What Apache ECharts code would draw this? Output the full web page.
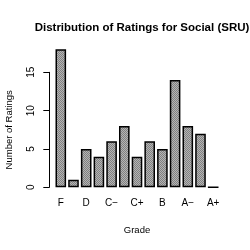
<!DOCTYPE html>
<html><head><meta charset="utf-8">
<script src="https://cdn.jsdelivr.net/npm/echarts@6/dist/echarts.min.js"></script>
<style>html,body{margin:0;padding:0;background:#fff}#c{width:250px;height:250px}</style>
</head><body><div id="c"></div>
<script>
var categories = ['F','D−','D','D+','C−','C','C+','B−','B','B+','A−','A','A+'];
var counts = [18,1,5,4,6,8,4,6,5,14,8,7,0];
var yTicks = [0,5,10,15];
var titleText = 'Distribution of Ratings for Social (SRU)';
var xName = 'Grade';
var yName = 'Number of Ratings';

var pc = document.createElement('canvas');
pc.width = 2; pc.height = 2;
var ctx = pc.getContext('2d');
ctx.fillStyle = '#b4b4b4'; ctx.fillRect(0,0,2,2);
ctx.fillStyle = '#808080'; ctx.fillRect(0,0,1,1); ctx.fillRect(1,1,1,1);

var font = 'Liberation Sans, Arial, sans-serif';
var chart = echarts.init(document.getElementById('c'), null, {renderer:'canvas'});
chart.setOption({
  animation:false,
  backgroundColor:'#fff',
  title:{text:titleText, left:137, top:17, textAlign:'center',
    textStyle:{fontFamily:font, fontSize:11.5, fontWeight:'bold', color:'#000'}},
  grid:[
    {left:54.45, width:165.1, top:49.3, height:138, containLabel:false, outerBoundsMode:'none'},
    {left:49.3, width:170, top:72.3, height:115, containLabel:false, outerBoundsMode:'none'}
  ],
  xAxis:[
    {type:'category', gridIndex:0, data:categories,
     axisLine:{show:false}, axisTick:{show:false},
     axisLabel:{interval:1, margin:11, fontFamily:font, fontSize:10, color:'#000'},
     name:xName, nameLocation:'middle', nameGap:38, nameMoveOverlap:false,
     nameTextStyle:{fontFamily:font, fontSize:9.5, color:'#000'}},
    {type:'value', gridIndex:1, show:false, min:0, max:1}
  ],
  yAxis:[
    {type:'value', gridIndex:0, min:0, max:18, show:false},
    {type:'value', gridIndex:1, min:0, max:15, interval:5,
     splitLine:{show:false},
     axisLine:{show:true, lineStyle:{color:'#000', width:1}},
     axisTick:{show:true, length:6, lineStyle:{color:'#000'}},
     axisLabel:{rotate:90, margin:13, fontFamily:font, fontSize:10, color:'#000'},
     name:yName, nameLocation:'middle', nameGap:35, nameRotate:90, nameMoveOverlap:false,
     nameTextStyle:{fontFamily:font, fontSize:9.5, color:'#000'}}
  ],
  series:[{
    type:'bar', xAxisIndex:0, yAxisIndex:0, data:counts,
    barCategoryGap:'16.5%',
    itemStyle:{color:{image:pc, repeat:'repeat'}, borderColor:'#000', borderWidth:1.5},
    emphasis:{disabled:true}
  }]
});
</script></body></html>
